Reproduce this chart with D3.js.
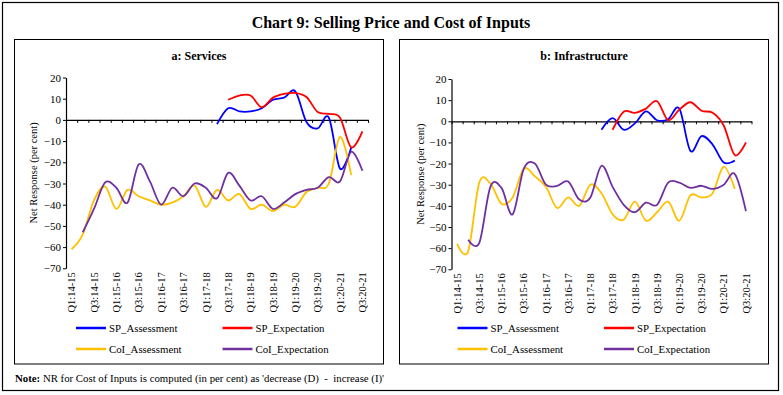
<!DOCTYPE html>
<html>
<head>
<meta charset="utf-8">
<script src="https://d3js.org/d3.v7.min.js"></script>
<style>
  body { margin: 0; background: #fff; }
  text { font-family: "Liberation Serif", "DejaVu Serif", serif; fill: #000; }
</style>
</head>
<body>
<div id="chart-area"></div>
<script>
// quarters on the x axis
var categories = [
    "Q1:14-15", "Q2:14-15", "Q3:14-15", "Q4:14-15",
    "Q1:15-16", "Q2:15-16", "Q3:15-16", "Q4:15-16",
    "Q1:16-17", "Q2:16-17", "Q3:16-17", "Q4:16-17",
    "Q1:17-18", "Q2:17-18", "Q3:17-18", "Q4:17-18",
    "Q1:18-19", "Q2:18-19", "Q3:18-19", "Q4:18-19",
    "Q1:19-20", "Q2:19-20", "Q3:19-20", "Q4:19-20",
    "Q1:20-21", "Q2:20-21", "Q3:20-21"
];

// a: Services
var svcSpAssess = [null, null, null, null, null, null, null, null, null, null, null, null, null,
    -2, 5.5, 4, 4, 5.5, 9.5, 10.5, 13.5, -1, -4, 1, -23, -13, null];
var svcSpExpect = [null, null, null, null, null, null, null, null, null, null, null, null, null, null,
    9.5, 11.5, 11.5, 6, 10.5, 12.3, 12.7, 10.8, 3.7, 2.8, 1, -13, -5.4];
var svcCoiAssess = [-61, -54, -38, -31.5, -42, -33, -36, -38, -40, -39, -36, -31, -41, -33,
    -38, -35, -42, -40, -43, -40, -41, -34, -32, -30, -8, -26, null];
var svcCoiExpect = [null, -53, -42, -29.5, -32, -39, -21, -29, -40, -32, -36, -30, -32, -37,
    -25, -31, -38, -36, -42, -39, -35, -33, -32, -27, -29, -15, -24];

// b: Infrastructure
var infSpAssess = [null, null, null, null, null, null, null, null, null, null, null, null, null,
    -4, 1.5, -4, -1, 4.7, 0.5, 1, 6, -14, -7, -11, -19.5, -18.5, null];
var infSpExpect = [null, null, null, null, null, null, null, null, null, null, null, null, null, null,
    -4, 4.5, 4, 6, 9.5, 0.5, 5.5, 9, 5, 4, -2, -16, -10];
var infCoiAssess = [-58, -61.5, -29, -29.5, -39, -36, -22.5, -26, -31, -41, -36, -40, -30, -34,
    -44, -46.5, -38, -47, -43, -38, -47, -35, -36, -34, -21.5, -32, null];
var infCoiExpect = [null, -56, -57.5, -31, -31.5, -44, -22.5, -20, -30, -30.5, -28.5, -37, -36, -21,
    -31, -39.5, -43, -38.5, -39.5, -29, -29, -31.5, -30.5, -32, -30, -25, -42.5];

var yTicks = [20, 10, 0, -10, -20, -30, -40, -50, -60, -70];
var seriesNames = ["SP_Assessment", "SP_Expectation", "CoI_Assessment", "CoI_Expectation"];
var seriesColors = ["#0000ff", "#ff0000", "#ffc000", "#7030a0"];

var width = 783,
    height = 395;

var svg = d3.select("#chart-area")
    .append("svg")
    .attr("width", width)
    .attr("height", height);

// outer frame
svg.append("rect")
    .attr("x", 2.5).attr("y", 2.5)
    .attr("width", 776).attr("height", 388)
    .attr("fill", "none")
    .attr("stroke", "#000")
    .attr("stroke-width", 1.2);

svg.append("text")
    .attr("x", 391).attr("y", 28)
    .attr("text-anchor", "middle")
    .style("font-size", "16px")
    .style("font-weight", "bold")
    .text("Chart 9: Selling Price and Cost of Inputs");

var panels = [
    {title: "a: Services", series: [svcSpAssess, svcSpExpect, svcCoiAssess, svcCoiExpect],
     box: [14.5, 39.5, 369, 324.5], left: 66, right: 368, top: 77.5, bottom: 268.3,
     yTitleX: 33, legendX: [76, 222.5]},
    {title: "b: Infrastructure", series: [infSpAssess, infSpExpect, infCoiAssess, infCoiExpect],
     box: [399.5, 39.5, 369, 324.5], left: 451.5, right: 751.5, top: 79, bottom: 269.3,
     yTitleX: 420, legendX: [457.5, 604]}
];

panels.forEach(drawPanel);

function drawPanel(p) {
    var g = svg.append("g");

    g.append("rect")
        .attr("x", p.box[0]).attr("y", p.box[1])
        .attr("width", p.box[2]).attr("height", p.box[3])
        .attr("fill", "none")
        .attr("stroke", "#000")
        .attr("stroke-width", 1);

    g.append("text")
        .attr("x", p.box[0] + p.box[2] / 2)
        .attr("y", 60)
        .attr("text-anchor", "middle")
        .style("font-size", "12px")
        .style("font-weight", "bold")
        .text(p.title);

    var x = d3.scaleBand()
        .domain(categories)
        .range([p.left, p.right])
        .padding(0);

    // category boundaries, for the tick marks
    var xb = d3.scaleLinear()
        .domain([0, categories.length])
        .range([p.left, p.right]);

    var y = d3.scaleLinear()
        .domain([-70, 20])
        .range([p.bottom, p.top]);

    var yAxis = g.append("g")
        .attr("transform", "translate(" + p.left + ",0)")
        .call(d3.axisLeft(y).tickValues(yTicks).tickSize(3).tickPadding(2).tickSizeOuter(0));
    yAxis.select(".domain").attr("stroke-width", 1.2);
    yAxis.selectAll("text")
        .style("font-family", "Liberation Serif")
        .style("font-size", "11px");

    var xAxis = g.append("g")
        .attr("transform", "translate(0," + y(0) + ")")
        .call(d3.axisBottom(xb).tickValues(d3.range(0, categories.length + 1)).tickSize(3).tickFormat("").tickSizeOuter(0));
    xAxis.select(".domain").attr("stroke-width", 1.2);

    // every other quarter is labelled, at the foot of the plot
    g.selectAll(".xlabel")
        .data(categories.filter(function(d, i) { return i % 2 === 0; }))
        .enter().append("text")
        .attr("class", "xlabel")
        .attr("transform", function(d) {
            return "translate(" + (x(d) + x.bandwidth() / 2) + "," + (p.bottom + 4) + ")rotate(-90)";
        })
        .attr("dy", "0.35em")
        .attr("text-anchor", "end")
        .style("font-size", "10.5px")
        .text(function(d) { return d; });

    g.append("text")
        .attr("transform", "translate(" + p.yTitleX + "," + ((p.top + p.bottom) / 2) + ")rotate(-90)")
        .attr("dy", "0.35em")
        .attr("text-anchor", "middle")
        .style("font-size", "10.5px")
        .text("Net Response (per cent)");

    var line = d3.line()
        .x(function(d) { return x(d.c) + x.bandwidth() / 2; })
        .y(function(d) { return y(d.v); })
        .curve(d3.curveCardinal.tension(0));

    p.series.forEach(function(vals, k) {
        var pts = vals.map(function(v, i) { return {c: categories[i], v: v}; })
            .filter(function(d) { return d.v != null; });
        g.append("path")
            .datum(pts)
            .attr("d", line)
            .attr("fill", "none")
            .attr("stroke", seriesColors[k])
            .attr("stroke-width", 1.8);
    });

    // legend, two by two
    var legend = g.selectAll(".legend")
        .data(seriesNames)
        .enter().append("g")
        .attr("class", "legend")
        .attr("transform", function(d, i) {
            return "translate(" + p.legendX[i % 2] + "," + (i < 2 ? 328 : 349) + ")";
        });
    legend.append("line")
        .attr("x1", 0).attr("x2", 30)
        .attr("stroke", function(d, i) { return seriesColors[i]; })
        .attr("stroke-width", 2.5);
    legend.append("text")
        .attr("x", 33)
        .attr("dy", "0.35em")
        .style("font-size", "10.8px")
        .text(function(d) { return d; });
}

var note = svg.append("text")
    .attr("x", 15).attr("y", 382)
    .style("font-size", "10.8px");
note.append("tspan").style("font-weight", "bold").text("Note:");
note.append("tspan").text(" NR for Cost of Inputs is computed (in per cent) as 'decrease (D)  -  increase (I)'")
    .attr("xml:space", "preserve");
</script>
</body>
</html>
